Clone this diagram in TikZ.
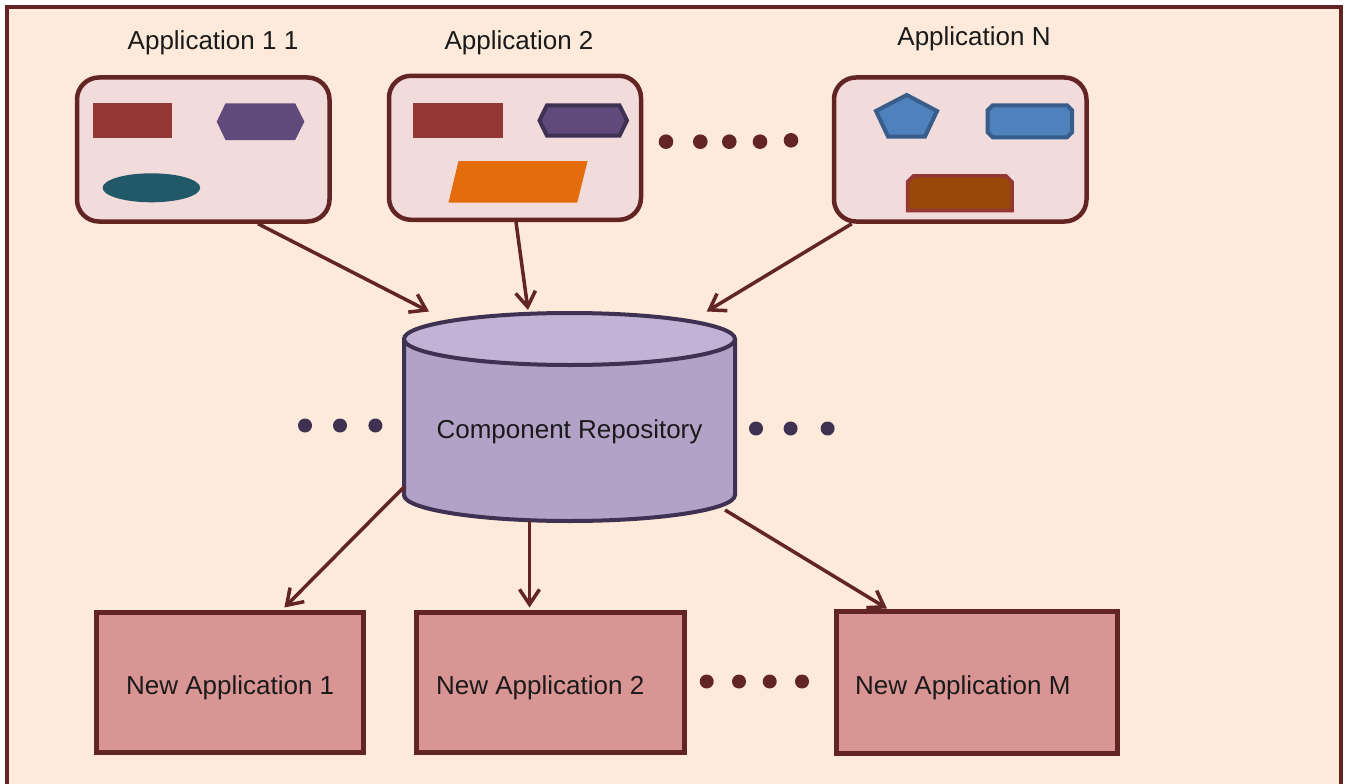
\documentclass[tikz,border=0pt]{standalone}
\usepackage{fontspec}
\setmainfont{Liberation Sans}
\usetikzlibrary{arrows.meta,calc}
\definecolor{bgc}{HTML}{FDEADA}
\definecolor{framec}{HTML}{632523}
\definecolor{appfill}{HTML}{F2DCDB}
\definecolor{redr}{HTML}{953735}
\definecolor{purp}{HTML}{604A7B}
\definecolor{purpd}{HTML}{3F3151}
\definecolor{tealc}{HTML}{215968}
\definecolor{orangec}{HTML}{E46C0A}
\definecolor{bluec}{HTML}{4F81BD}
\definecolor{blued}{HTML}{385D8A}
\definecolor{brownc}{HTML}{984807}
\definecolor{newfill}{HTML}{D99594}
\definecolor{cylside}{HTML}{B2A2C7}
\definecolor{cyltop}{HTML}{C2B3D6}
\definecolor{txt}{HTML}{1A1A1A}
\begin{document}
\begin{tikzpicture}[x=1pt,y=-1pt,
  appbox/.style={draw=framec, fill=appfill, line width=4.5pt, rounded corners=22pt, inner sep=0pt},
  newbox/.style={draw=framec, fill=newfill, line width=5pt, inner sep=0pt},
  lbl/.style={text=txt, font=\fontsize{26}{30}\selectfont, inner sep=0pt},
  arr/.style={draw=framec, line width=3.5pt, -{Straight Barb[length=15pt,width=20pt]}},
  dotr/.style={fill=framec},
  dotp/.style={fill=purpd}
]
\useasboundingbox (0,0) rectangle (1347,784);
\fill[bgc] (7,7) rectangle (1341,790);
\draw[framec, line width=3.5pt] (7,795) -- (7,7) -- (1341,7) -- (1341,795);

% application boxes
\node[appbox, minimum width=252.5pt, minimum height=144pt] (app1) at (203.25,149.5) {};
\node[appbox, minimum width=252pt, minimum height=144pt] (app2) at (515,147.8) {};
\node[appbox, minimum width=252.5pt, minimum height=144pt] (app3) at (960.25,149.5) {};

\node[lbl, anchor=base] (lab1) at (213,50) {Application 1 1};
\node[lbl, anchor=base] (lab2) at (519,49.3) {Application 2};
\node[lbl, anchor=base] (lab3) at (974,45.3) {Application N};

% shapes in application 1
\fill[redr] (93,103.3) rectangle (172.3,137.7);
\fill[purp] (216.7,121.7) -- (225.5,103.3) -- (295.2,103.3) -- (304.4,121.7) -- (295.2,140) -- (225.5,140) -- cycle;
\fill[tealc] (151.4,187.8) ellipse [x radius=48.8pt, y radius=14.5pt];

% shapes in application 2
\fill[redr] (412.9,103.3) rectangle (502.5,137.7);
\filldraw[fill=purp, draw=purpd, line width=4pt] (539.5,120.5) -- (547,105.3) -- (619.5,105.3) -- (627,120.5) -- (619.5,135.7) -- (547,135.7) -- cycle;
\fill[orangec] (458.5,161) -- (587.6,161) -- (577.2,202.7) -- (448.5,202.7) -- cycle;

% shapes in application N
\filldraw[fill=bluec, draw=blued, line width=4pt] (906.7,95) -- (937,111) -- (925,136.5) -- (888,136.5) -- (876,111) -- cycle;
\filldraw[fill=bluec, draw=blued, line width=4pt] (992.7,105.3) -- (1067,105.3) -- (1072,110.3) -- (1072,132.3) -- (1067,137.3) -- (992.7,137.3) -- (987.7,132.3) -- (987.7,110.3) -- cycle;
\filldraw[fill=brownc, draw=redr, line width=3.5pt] (907.5,210.5) -- (907.5,181.8) -- (913.5,175.8) -- (1006,175.8) -- (1012,181.8) -- (1012,210.5) -- cycle;

% dots between application boxes
\foreach \x/\y in {666/141.7, 700.3/141.7, 729.3/141.7, 760/141.7, 791/140.3}
  \fill[dotr] (\x,\y) circle[radius=7.3pt];

% repository cylinder
\fill[cylside] (404,339) -- (404,495) arc[start angle=180, end angle=360, x radius=165.5pt, y radius=26pt] -- (735,339) -- cycle;
\draw[purpd, line width=4pt] (404,339) -- (404,495) arc[start angle=180, end angle=360, x radius=165.5pt, y radius=26pt] -- (735,339);
\filldraw[fill=cyltop, draw=purpd, line width=4pt] (569.5,339) ellipse [x radius=165.5pt, y radius=26pt];
\node[lbl, anchor=base] (repo) at (569.5,438) {Component Repository};

\coordinate (cylL) at (404,487);
\coordinate (cylB) at (529.5,521);
\coordinate (cylR) at (725,510);

\foreach \x/\y in {305/425.5, 340/425.5, 375.4/425.5}
  \fill[dotp] (\x,\y) circle[radius=7pt];
\foreach \x/\y in {756/428.5, 790.6/428.5, 827.6/428.5}
  \fill[dotp] (\x,\y) circle[radius=7pt];

% new application boxes
\node[newbox, minimum width=266.6pt, minimum height=140pt] (new1) at (230.2,682.5) {};
\node[newbox, minimum width=267.5pt, minimum height=140pt] (new2) at (550.25,682.5) {};
\node[newbox, minimum width=281pt, minimum height=142pt] (new3) at (977,682.5) {};

\node[lbl, anchor=base] (nlab1) at (230.2,694.3) {New Application 1};
\node[lbl, anchor=base west] (nlab2) at (436,694.3) {New Application 2};
\node[lbl, anchor=base west] (nlab3) at (855,694.3) {New Application M};

\foreach \x/\y in {706.7/681.5, 739/681.5, 769.7/681.5, 802/681.5}
  \fill[dotr] (\x,\y) circle[radius=7pt];

% arrows into the repository
\coordinate (t1) at (429,311.5);
\coordinate (t2) at (528,310);
\coordinate (t3) at (706.7,311.5);
\draw[arr] ([xshift=54.75pt]app1.south) -- (t1);
\draw[arr] ([xshift=1pt]app2.south) -- (t2);
\draw[arr] ([xshift=-108.5pt]app3.south) -- (t3);

% arrows out of the repository
\coordinate (b1) at (284.4,607.5);
\coordinate (b2) at (529.5,607.5);
\coordinate (b3) at (887,608.5);
\draw[arr] (cylL) -- (b1);
\draw[arr] (cylB) -- (b2);
\draw[arr] (cylR) -- (b3);
\end{tikzpicture}
\end{document}
